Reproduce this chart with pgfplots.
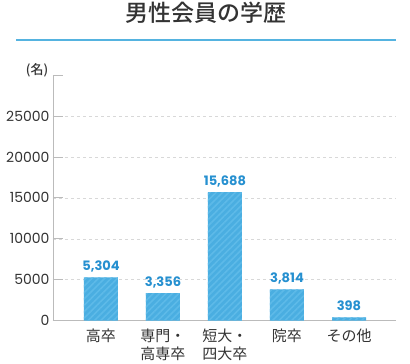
\documentclass[border=0pt]{standalone}
\usepackage{fontspec}
\setmainfont{Poppins}
\newfontfamily\cjk{Noto Sans CJK JP}
\newfontfamily\cjkm{Noto Sans CJK JP Medium}
\usepackage{pgfplots}
\pgfplotsset{compat=1.18}
\usetikzlibrary{patterns.meta}
\definecolor{barblue}{HTML}{4AAEE1}
\definecolor{stripe}{HTML}{5DBAE8}
\definecolor{lblblue}{HTML}{2690D0}
\definecolor{rulblue}{HTML}{55B3E0}
\definecolor{txt}{HTML}{333333}
\definecolor{axisgray}{HTML}{BBBBBB}
\definecolor{gridgray}{HTML}{D8D8D8}
\begin{document}
\begin{tikzpicture}[x=1pt,y=1pt]
\useasboundingbox (0,0) rectangle (410,-364);
\node[font=\cjkm\fontsize{23}{23}\selectfont, text=txt] at (206,-13) {男性会員の学歴};
\draw[rulblue, line width=2pt] (16,-40) -- (396,-40);
\node[font=\cjkm\fontsize{13}{13}\selectfont, text=txt] at (37,-70) {(名)};
\begin{axis}[
  at={(53pt,-320.7pt)}, anchor=south west,
  scale only axis, width=343pt, height=245.7pt,
  xmin=-0.774, xmax=4.758, ymin=0, ymax=30000,
  separate axis lines,
  axis x line=bottom, axis y line=left,
  axis line style={-, draw=axisgray, line width=0.8pt},
  scaled y ticks=false,
  /pgf/number format/1000 sep={},
  /pgf/number format/assume math mode=true,
  ytick={0,5000,...,25000},
  extra y ticks={30000}, extra y tick labels={},
  extra y tick style={grid=none},
  ytick align=inside,
  major tick length=9.5pt,
  ytick style={draw=axisgray, line width=0.8pt},
  ymajorgrids,
  grid style={draw=gridgray, dash pattern=on 3pt off 3pt, line width=0.6pt},
  yticklabel style={font=\fontsize{14}{14}\selectfont, text=txt},
  xtick={0,1,2,3,4},
  xtick style={draw=none},
  xticklabels={高卒, {専門・\\高専卒}, {短大・\\四大卒}, 院卒, その他},
  xticklabel style={font=\cjk\fontsize{15}{18}\selectfont, text=txt, align=center, anchor=north, yshift=0pt},
  clip=false,
]
\addplot[ybar, bar width=34pt, fill=barblue, draw=none,
  postaction={pattern={Lines[angle=45,distance=4.5pt,line width=1.6pt]}, pattern color=stripe},
  nodes near coords={\pgfmathprintnumber[assume math mode=true,1000 sep={,}]{\pgfplotspointmeta}},
  every node near coord/.append style={font=\bfseries\fontsize{13}{13}\selectfont, text=lblblue, anchor=base, yshift=6.5pt}
] coordinates {(0,5304) (1,3356) (2,15688) (3,3814) (4,398)};
\end{axis}
\end{tikzpicture}
\end{document}
